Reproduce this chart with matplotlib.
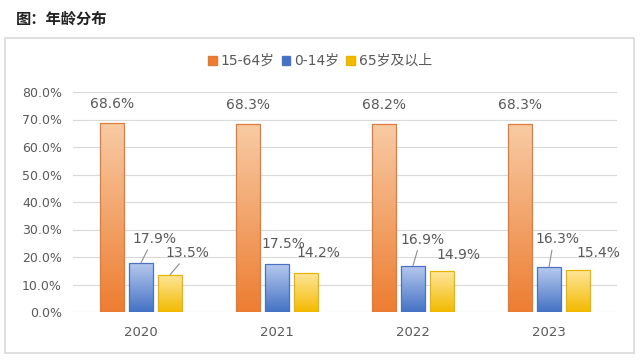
import numpy as np
import matplotlib
matplotlib.use("Agg")
import matplotlib.pyplot as plt
from matplotlib.colors import LinearSegmentedColormap
from matplotlib.patches import Rectangle, Patch

plt.rcParams['font.family'] = ['DejaVu Sans', 'Noto Sans CJK SC']

years = ['2020', '2021', '2022', '2023']
series_names = ['15-64岁', '0-14岁', '65岁及以上']
age_15_64 = [68.6, 68.3, 68.2, 68.3]
age_0_14 = [17.9, 17.5, 16.9, 16.3]
age_65_up = [13.5, 14.2, 14.9, 15.4]
y_ticks = [0, 10, 20, 30, 40, 50, 60, 70, 80]

# (top colour, bottom colour, edge colour)
styles = [('#F8CBA4', '#ED7D31', '#E07A38'),
          ('#B8CAEE', '#4472C4', '#4A72C0'),
          ('#FFE79E', '#F2BA00', '#E8B400')]

# label offsets in pixels from bar top, and whether a leader line is drawn
label_offsets = [
    [(0, 19, False)] * 4,
    [(13, 24, True), (6, 20, False), (10, 26, True), (8, 28, True)],
    [(17, 22, True), (12, 20, False), (16, 16, False), (20, 17, False)],
]

fig = plt.figure(figsize=(6.4, 3.6), dpi=100)
fig.patch.set_facecolor('white')

fig.text(16 / 640, 1 - 19 / 360, '图：年龄分布', fontsize=11, fontweight='bold',
         color='#222222', va='center', ha='left', family=['Noto Sans CJK SC'])
fig.add_artist(Rectangle((5 / 640, 1 - 353 / 360), 629 / 640, 315 / 360,
                         transform=fig.transFigure, fill=False,
                         edgecolor='#D9D9D9', lw=1.2))

ax = fig.add_axes([73 / 640, 1 - 312 / 360, 544 / 640, 220 / 360])
ax.set_xlim(-0.5, 3.5)
ax.set_ylim(0, 80)
ax.set_yticks(y_ticks)
ax.set_yticklabels(['%.1f%%' % t for t in y_ticks])
ax.set_xticks(range(len(years)))
ax.set_xticklabels(years)
ax.tick_params(length=0, labelsize=9, colors='#595959', pad=8)
ax.tick_params(axis='x', pad=10, labelsize=9.5)
for s in ax.spines.values():
    s.set_visible(False)
ax.grid(axis='y', color='#D9D9D9', lw=0.8)
ax.set_axisbelow(True)

width = 0.17
step = 0.213
x = np.arange(len(years))
all_series = [age_15_64, age_0_14, age_65_up]

for i, (vals, (top, bot, edge)) in enumerate(zip(all_series, styles)):
    cmap = LinearSegmentedColormap.from_list('g%d' % i, [bot, top])
    xs = x + (i - 1) * step
    bars = ax.bar(xs, vals, width, color='none', edgecolor=edge, lw=0.9, zorder=3)
    for b, v in zip(bars, vals):
        grad = np.linspace(0, 1, 256).reshape(-1, 1)
        im = ax.imshow(grad, cmap=cmap, origin='lower', aspect='auto',
                       extent=(b.get_x(), b.get_x() + width, 0, v), zorder=2)
        im.set_clip_path(b)
    for j, (xx, v) in enumerate(zip(xs, vals)):
        dx, dy, line = label_offsets[i][j]
        props = None
        if line:
            props = dict(arrowstyle='-', color='#8C8C8C', lw=0.8,
                         relpos=(0.4, 0), shrinkA=1, shrinkB=0)
        ax.annotate('%.1f%%' % v, xy=(xx, v), xytext=(dx, dy),
                    textcoords='offset pixels', ha='center', va='center',
                    fontsize=10, color='#595959', arrowprops=props, zorder=5)

ax.set_xlim(-0.5, 3.5)
ax.set_ylim(0, 80)

handles = [Patch(facecolor=s[1], edgecolor=s[2]) for s in styles]
fig.legend(handles, series_names, loc='center', bbox_to_anchor=(320 / 640, 1 - 61 / 360),
           ncol=3, frameon=False, fontsize=10, handlelength=0.6, handleheight=0.6,
           handletextpad=0.3, columnspacing=0.5, labelcolor='#595959')

fig.savefig('out.png', dpi=100, facecolor='white')
